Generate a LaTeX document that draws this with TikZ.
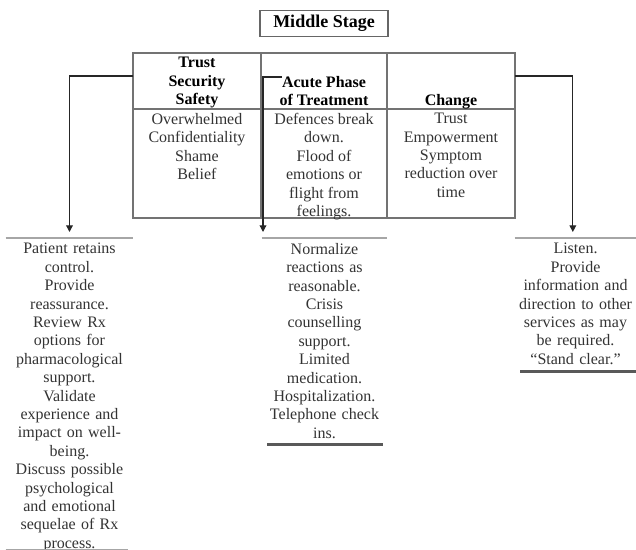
\documentclass[tikz,border=0pt]{standalone}
\usepackage{fontspec}
\setmainfont{Liberation Serif}
\usetikzlibrary{positioning}
\usetikzlibrary{arrows.meta}
\tikzset{
    flow/.style = {draw=black!85,line width=0.9pt,-{Triangle[width=5pt,length=5pt]}},
    grid/.style = {draw=black!55,line width=0.8pt},
    titlebox/.style = {rectangle,draw=black!60,line width=1pt,minimum width=96pt,minimum height=17.25pt,font=\bfseries\fontsize{13.5}{15}\selectfont},
    cellhead/.style = {align=center,inner sep=0pt,anchor=north,font=\bfseries\fontsize{12}{13.8}\selectfont},
    cellbody/.style = {align=center,inner sep=0pt,anchor=north,text=black!80,font=\fontsize{12}{13.8}\selectfont},
    advice/.style = {align=center,inner sep=0pt,anchor=north,text=black!80,font=\fontsize{12}{13.8}\selectfont},
    ruletop/.style = {draw=black!35,line width=1.5pt},
    rulebot/.style = {draw=black!65,line width=2pt},
}

\begin{document}
\begin{tikzpicture}[x=0.75pt,y=-0.75pt]
  \useasboundingbox (0,0) rectangle (636,550);

  \node[titlebox] (title) at (324,23.5) {Middle Stage};

  % the table of the stage
  \node[rectangle,grid,minimum width=286.5pt,minimum height=123.75pt,inner sep=0pt] (tbl) at (324,135.5) {};
  \draw[grid] (261,53) -- (261,218);
  \draw[grid] (387,53) -- (387,218);
  \draw[grid] (133,109) -- (515,109);

  \node[cellhead] (trust) at (197,57) {Trust\\Security\\Safety};
  \node[cellhead] (acute) at (324,76) {Acute Phase\\of Treatment};
  \node[cellhead] (change) at (451,94) {Change};

  \node[cellbody] (feel) at (197,113) {Overwhelmed\\Confidentiality\\Shame\\Belief};
  \node[cellbody] (break) at (324,113) {Defences break\\down.\\Flood of\\emotions or\\flight from\\feelings.};
  \node[cellbody] (gain) at (451,113) {Trust\\Empowerment\\Symptom\\reduction over\\time};

  % what to do
  \node[advice,text width=95.25pt] (pat) at (69.5,243) {Patient retains\\control.\\Provide\\reassurance.\\Review Rx\\options for\\pharmacological\\support.\\Validate\\experience and\\impact on well-\\being.\\Discuss possible\\psychological\\and emotional\\sequelae of Rx\\process.};
  \node[advice,text width=93.75pt] (nrm) at (324.5,243) {Normalize\\reactions as\\reasonable.\\Crisis\\counselling\\support.\\Limited\\medication.\\Hospitalization.\\Telephone check\\ins.};
  \node[advice,text width=90.75pt] (lst) at (575.5,243) {Listen.\\Provide\\information and\\direction to other\\services as may\\be required.\\“Stand clear.”};

  \draw[ruletop] ([yshift=3.75pt]pat.north west) -- ([yshift=3.75pt]pat.north east);
  \draw[ruletop] ([yshift=3.75pt]nrm.north west) -- ([yshift=3.75pt]nrm.north east);
  \draw[ruletop] ([yshift=3.75pt]lst.north west) -- ([yshift=3.75pt]lst.north east);
  \draw[ruletop,line width=1pt] ([yshift=2pt]pat.south west) -- ([yshift=2pt,xshift=-4pt]pat.south east);
  \draw[rulebot] ([yshift=-4pt,xshift=4pt]nrm.south west) -- ([yshift=-4pt,xshift=-3pt]nrm.south east);
  \draw[rulebot] ([yshift=-5pt,xshift=4pt]lst.south west) -- ([yshift=-5pt]lst.south east);

  % connectors
  \coordinate (lout) at (133,76);
  \coordinate (mout) at (282,77);
  \coordinate (mbend) at (263,77);
  \coordinate (rout) at (515,76);
  \draw[flow] (lout) -| ([yshift=8.25pt]pat.north);
  \draw[flow] (mout) -- (mbend) -- ([yshift=8.25pt]mbend |- nrm.north);
  \draw[flow] (rout) -| ([yshift=8.25pt,xshift=-2pt]lst.north);
\end{tikzpicture}
\end{document}
